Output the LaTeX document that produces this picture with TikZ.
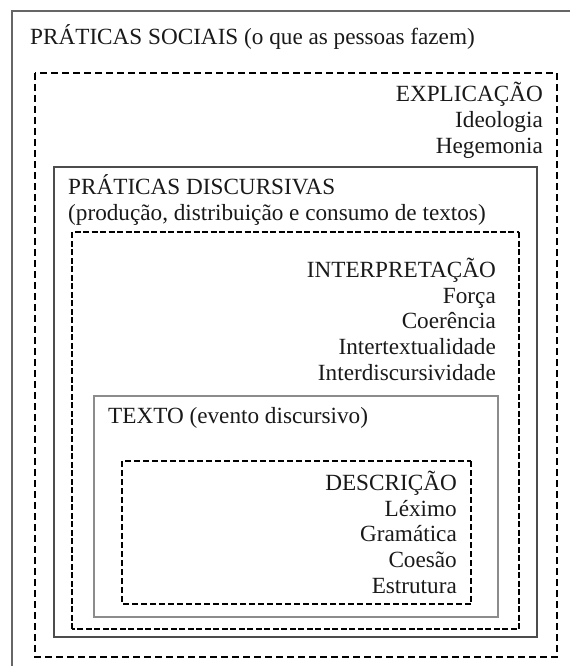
\documentclass[tikz,border=0pt]{standalone}
\usepackage{fontspec}
\setmainfont{Liberation Serif}
\usepackage{tikz}
\usetikzlibrary{calc,positioning}
\tikzstyle{lbl}       = [inner sep=0pt, text=black!90, font=\fontsize{23.2}{25.6}\selectfont]
\tikzstyle{lblr}      = [lbl, align=right, anchor=base east]
\tikzstyle{lbll}      = [lbl, align=left, anchor=base west]
\tikzstyle{solidA}    = [draw=black!70, line width=1.5pt]
\tikzstyle{solidB}    = [draw=black!45, line width=1.1pt]
\tikzstyle{dashA}     = [draw=black, line width=2.2pt, dash pattern=on 7pt off 4pt]
\tikzstyle{dashB}     = [draw=black, line width=1.5pt, dash pattern=on 6pt off 2.5pt]
\tikzstyle{dashC}     = [draw=black, line width=1.5pt, dash pattern=on 6pt off 3pt]

\begin{document}
\begin{tikzpicture}[x=1pt,y=-1pt]
        \useasboundingbox (0,0) rectangle (570,666);
        % frames, outermost first
        \draw[draw=black!60, line width=1.2pt] (12,666) -- (12,11) -- (570,11);
        \draw[dashA] (35,73) rectangle (557,657);
        \draw[solidA] (54,167) rectangle (537,637);
        \draw[dashB] (72,629) -- (72,232) -- (519,232);
        \draw[dashB, line width=2.6pt] (519,232) -- (519,629) -- (72,629);
        \draw[solidB] (94,396) rectangle (498,617);
        \draw[dashC] (471,604) -- (122,604) -- (122,461) -- (471,461);
        \draw[dashC, line width=2.4pt] (471,461) -- (471,604);

        % texts (multi-line nodes sit on their last line)
        \node[lbll] (sociais) at (30,45) {PRÁTICAS SOCIAIS (o que as pessoas fazem)};
        \node[lblr] (explicacao) at (543,153) {EXPLICAÇÃO\\Ideologia\\Hegemonia};
        \node[lbll] (discursivas) at (68,220) {PRÁTICAS DISCURSIVAS\\(produção, distribuição e consumo de textos)};
        \node[lblr] (interpretacao) at (496,380) {INTERPRETAÇÃO\\Força\\Coerência\\Intertextualidade\\Interdiscursividade};
        \node[lbll] (texto) at (108,423) {TEXTO (evento discursivo)};
        \node[lblr] (descricao) at (457,593) {DESCRIÇÃO\\Léximo\\Gramática\\Coesão\\Estrutura};
    \end{tikzpicture}
\end{document}
